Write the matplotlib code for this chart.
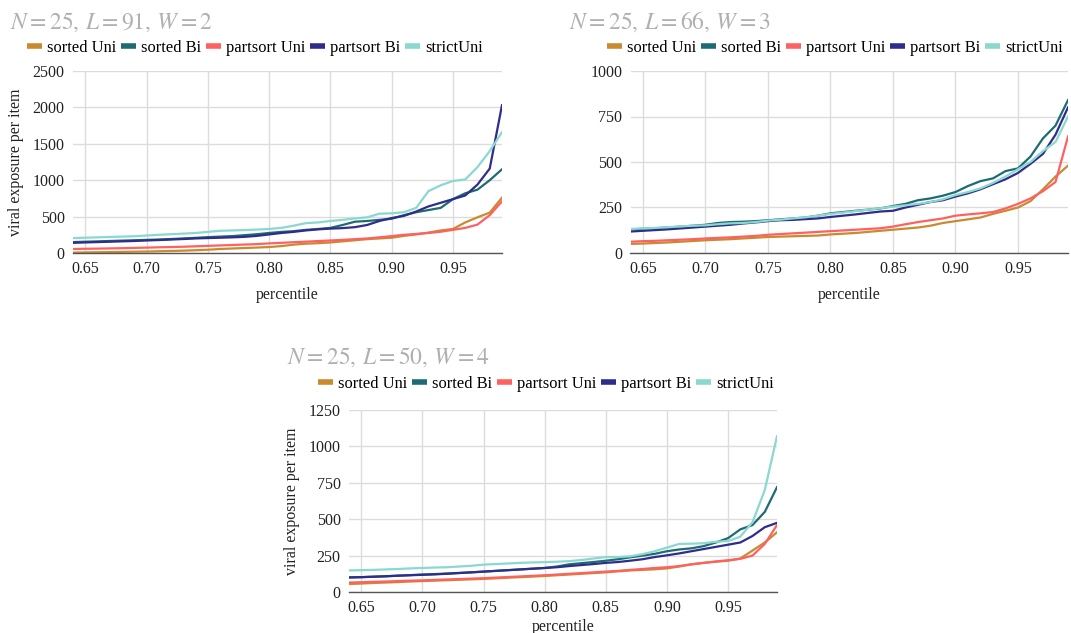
import matplotlib
matplotlib.use("Agg")
import matplotlib.pyplot as plt
from matplotlib.lines import Line2D

plt.rcParams['font.family'] = ['Liberation Serif', 'DejaVu Serif']
plt.rcParams['mathtext.fontset'] = 'stix'

percentile = [0.64, 0.65, 0.66, 0.67, 0.68, 0.69, 0.70, 0.71, 0.72, 0.73, 0.74,
              0.75, 0.76, 0.77, 0.78, 0.79, 0.80, 0.81, 0.82, 0.83, 0.84,
              0.85, 0.86, 0.87, 0.88, 0.89, 0.90, 0.91, 0.92, 0.93, 0.94,
              0.95, 0.96, 0.97, 0.98, 0.99]

series_names = ["sorted Uni", "sorted Bi", "partsort Uni", "partsort Bi", "strictUni"]
series_colors = ["#c98a30", "#1e6b73", "#ff6060", "#2f2c8c", "#8ad8d0"]

# Panel 1: N=25, L=91, W=2
p1_sorted_uni = [5, 8, 10, 12, 15, 18, 20, 24, 28, 32, 38, 45, 55, 62, 68, 75, 82, 95, 115, 128,
                 135, 145, 160, 175, 190, 200, 210, 235, 255, 280, 310, 330, 420, 490, 555, 760]
p1_sorted_bi = [150, 155, 160, 165, 170, 175, 180, 185, 192, 200, 208, 218, 225, 232, 245, 258,
                275, 290, 300, 318, 330, 345, 385, 430, 440, 455, 470, 520, 560, 590, 620,
                740, 820, 870, 1000, 1150]
p1_partsort_uni = [55, 58, 60, 63, 66, 70, 74, 78, 82, 86, 92, 98, 104, 110, 116, 122, 132, 140,
                   148, 156, 164, 172, 180, 190, 200, 215, 232, 250, 262, 275, 292, 318, 345,
                   390, 520, 710]
p1_partsort_bi = [140, 145, 150, 155, 160, 165, 172, 178, 185, 192, 200, 205, 210, 215, 222, 235,
                  255, 275, 290, 310, 325, 335, 342, 355, 385, 440, 480, 510, 570, 640, 690,
                  740, 790, 940, 1160, 2030]
p1_strict_uni = [205, 210, 215, 220, 225, 230, 240, 250, 258, 266, 275, 290, 305, 310, 315, 322,
                 330, 345, 375, 410, 420, 440, 455, 475, 490, 540, 545, 560, 620, 850, 930,
                 990, 1010, 1180, 1400, 1660]

# Panel 2: N=25, L=66, W=3
p2_sorted_uni = [50, 52, 55, 58, 62, 66, 70, 73, 76, 80, 84, 88, 90, 92, 94, 96, 102, 106, 110,
                 116, 122, 128, 134, 140, 150, 165, 175, 185, 195, 215, 232, 250, 285, 350, 420, 480]
p2_sorted_bi = [130, 133, 136, 140, 145, 150, 155, 165, 170, 172, 175, 180, 185, 190, 195, 205,
                218, 225, 232, 238, 245, 258, 270, 290, 300, 315, 335, 368, 395, 410, 450,
                465, 530, 630, 700, 840]
p2_partsort_uni = [62, 65, 67, 70, 73, 76, 80, 83, 86, 90, 94, 100, 104, 108, 112, 116, 120, 124,
                   128, 132, 136, 145, 158, 170, 180, 190, 205, 212, 218, 225, 245, 270, 300,
                   340, 390, 640]
p2_partsort_bi = [118, 122, 126, 130, 135, 140, 145, 150, 155, 162, 168, 175, 180, 182, 186, 190,
                  198, 205, 212, 220, 228, 232, 250, 265, 280, 290, 310, 328, 350, 378, 405,
                  440, 490, 545, 650, 800]
p2_strict_uni = [132, 135, 138, 142, 146, 150, 152, 158, 163, 165, 170, 178, 183, 190, 196, 205,
                 215, 222, 230, 238, 246, 255, 262, 270, 280, 295, 318, 335, 355, 385, 420,
                 460, 500, 560, 610, 750]

# Panel 3: N=25, L=50, W=4
p3_sorted_uni = [55, 58, 62, 65, 68, 72, 75, 78, 81, 84, 87, 90, 94, 98, 102, 106, 110, 115, 120,
                 125, 130, 135, 142, 148, 152, 156, 162, 175, 190, 200, 208, 215, 230, 285, 340, 410]
p3_sorted_bi = [100, 102, 105, 108, 112, 116, 120, 123, 127, 131, 135, 140, 145, 150, 155, 160,
                165, 175, 190, 198, 206, 215, 225, 238, 250, 262, 280, 292, 300, 315, 340,
                370, 430, 460, 550, 720]
p3_partsort_uni = [65, 67, 70, 72, 75, 78, 80, 83, 86, 89, 92, 95, 99, 103, 107, 111, 115, 120,
                   125, 130, 135, 140, 145, 152, 158, 165, 170, 178, 190, 200, 210, 218, 228,
                   250, 330, 460]
p3_partsort_bi = [100, 102, 105, 108, 112, 115, 118, 121, 125, 130, 135, 140, 145, 150, 155, 160,
                  165, 170, 178, 185, 192, 200, 206, 215, 225, 240, 252, 265, 280, 295, 310,
                  325, 340, 385, 445, 475]
p3_strict_uni = [148, 150, 152, 155, 158, 162, 165, 168, 170, 175, 180, 188, 192, 196, 200, 203,
                 205, 208, 212, 220, 230, 240, 240, 245, 260, 280, 305, 330, 332, 335, 345,
                 350, 380, 480, 700, 1070]

xticks = [0.65, 0.70, 0.75, 0.80, 0.85, 0.90, 0.95]
xtick_labels = ["0.65", "0.70", "0.75", "0.80", "0.85", "0.90", "0.95"]

panels = [
    dict(title=r"$N=25,\,L=91,\,W=2$",
         data=[p1_sorted_uni, p1_sorted_bi, p1_partsort_uni, p1_partsort_bi, p1_strict_uni],
         yticks=[0, 500, 1000, 1500, 2000, 2500], ylabel=True, xlabelpad=7,
         rect=[73/1071, 1-253/633, (502-73)/1071, (253-71)/633],
         title_xy=(10/1071, 1-29/633), leg_xy=(255/1071, 1-48/633)),
    dict(title=r"$N=25,\,L=66,\,W=3$",
         data=[p2_sorted_uni, p2_sorted_bi, p2_partsort_uni, p2_partsort_bi, p2_strict_uni],
         yticks=[0, 250, 500, 750, 1000], ylabel=False, xlabelpad=7,
         rect=[630.5/1071, 1-253/633, (1068-630.5)/1071, (253-71)/633],
         title_xy=(569/1071, 1-29/633), leg_xy=(835/1071, 1-48/633)),
    dict(title=r"$N=25,\,L=50,\,W=4$",
         data=[p3_sorted_uni, p3_sorted_bi, p3_partsort_uni, p3_partsort_bi, p3_strict_uni],
         yticks=[0, 250, 500, 750, 1000, 1250], ylabel=True, xlabelpad=2,
         rect=[349/1071, 41/633, (777-349)/1071, (592-410)/633],
         title_xy=(287/1071, 1-364/633), leg_xy=(546/1071, 1-384/633)),
]

fig = plt.figure(figsize=(10.71, 6.33), dpi=100)
fig.patch.set_facecolor("white")

for p in panels:
    ax = fig.add_axes(p["rect"])
    for name, color, vals in zip(series_names, series_colors, p["data"]):
        ax.plot(percentile, vals, color=color, lw=1.6, label=name)
    ax.set_xlim(0.64, 0.99)
    ax.set_ylim(0, p["yticks"][-1])
    ax.set_xticks(xticks)
    ax.set_xticklabels(xtick_labels)
    ax.set_yticks(p["yticks"])
    ax.grid(True, color="#dcdcdc", lw=1.0)
    ax.set_axisbelow(True)
    for s in ["top", "right", "left"]:
        ax.spines[s].set_visible(False)
    ax.spines["bottom"].set_color("#555555")
    ax.spines["bottom"].set_linewidth(1.0)
    ax.tick_params(length=0, labelsize=11.5, colors="#222222", pad=6)
    ax.set_xlabel("percentile", fontsize=11.5, color="#222222", labelpad=p["xlabelpad"])
    if p["ylabel"]:
        ax.set_ylabel("viral exposure per item", fontsize=11.5, color="#222222", labelpad=6)
    fig.text(p["title_xy"][0], p["title_xy"][1], p["title"], fontsize=17,
             color="#b0b0b0", ha="left", va="baseline")
    handles = [Line2D([], [], color=c, lw=4, solid_capstyle="butt") for c in series_colors]
    fig.legend(handles, series_names, loc="center", bbox_to_anchor=p["leg_xy"],
               ncol=5, frameon=False, fontsize=11.9, handlelength=0.9,
               handletextpad=0.3, columnspacing=0.3, borderaxespad=0, borderpad=0)

fig.savefig("out.png", dpi=100, facecolor="white")
